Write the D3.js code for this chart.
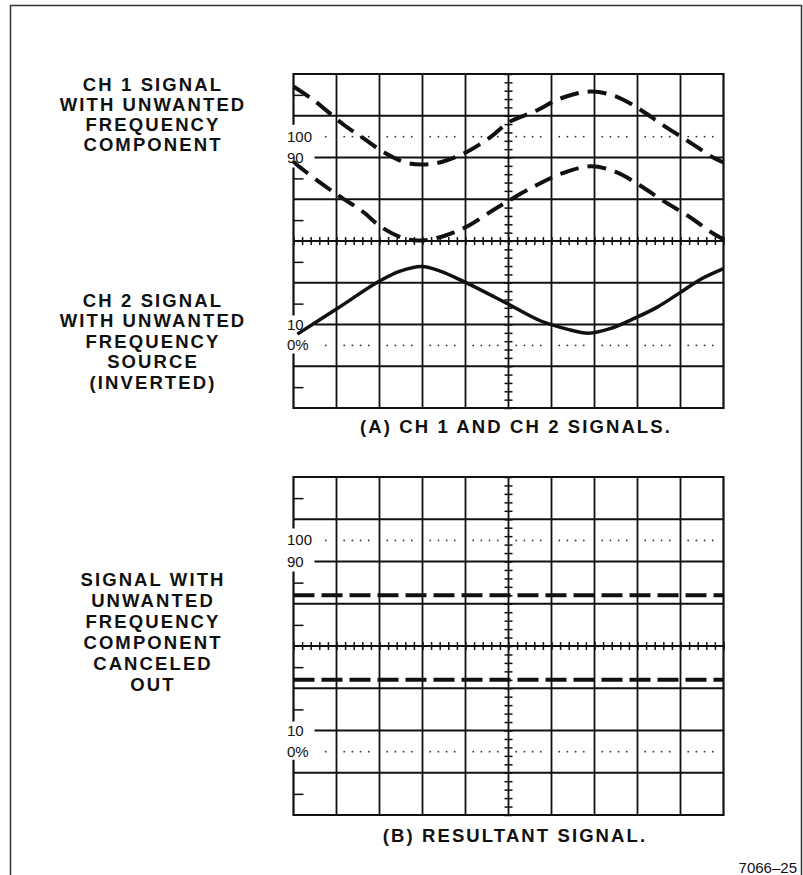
<!DOCTYPE html>
<html>
<head>
<meta charset="utf-8">
<script src="https://cdn.jsdelivr.net/npm/d3@7"></script>
<style>
  body { margin: 0; background: #fff; }
  svg { display: block; }
  .lbl { font-family: "Liberation Sans", Arial, sans-serif; font-weight: bold; font-size: 18.5px; letter-spacing: 2.1px; fill: #111; }
  .scl { font-family: "Liberation Sans", Arial, sans-serif; font-size: 15px; fill: #111; }
</style>
</head>
<body>
<script>
// values are in graticule divisions: x 0..10, y -4..4 from the centre line
var ch1Upper = [[0,3.7],[0.5,3.35],[1.16,2.79],[1.67,2.43],[2.06,2.15],[2.6,1.88],[3.02,1.83],[3.5,1.91],[4.06,2.15],[4.61,2.51],[5.0,2.84],[5.62,3.11],[6.2,3.41],[6.9,3.58],[7.48,3.47],[8.06,3.15],[8.6,2.77],[9.18,2.39],[9.76,2.0],[10,1.88]];
var ch1Lower = [[0,1.9],[0.12,1.79],[1.0,1.12],[1.59,0.72],[2.06,0.32],[2.64,0.04],[3.06,0.02],[3.5,0.12],[4.06,0.36],[4.61,0.72],[5.0,0.96],[5.62,1.32],[6.2,1.6],[6.9,1.79],[7.48,1.66],[8.06,1.33],[8.6,0.96],[9.18,0.6],[9.76,0.18],[10,0.04]];
var ch2Signal = [[0.09,-2.23],[1.0,-1.63],[2.0,-0.96],[2.48,-0.72],[2.99,-0.61],[3.41,-0.72],[3.94,-0.96],[4.92,-1.47],[5.74,-1.91],[6.36,-2.11],[6.86,-2.21],[7.36,-2.1],[7.91,-1.86],[8.45,-1.59],[9.0,-1.23],[9.46,-0.92],[10,-0.66]];
var resultUpper = [[0,1.2],[10,1.2]];
var resultLower = [[0,-0.8],[10,-0.8]];

var scaleLabels = ["100", "90", "10", "0%"];
var scaleLevels = [2.5, 2, -2, -2.5];

var labelsCh1 = ["CH 1 SIGNAL", "WITH UNWANTED", "FREQUENCY", "COMPONENT"];
var labelsCh2 = ["CH 2 SIGNAL", "WITH UNWANTED", "FREQUENCY", "SOURCE", "(INVERTED)"];
var labelsB = ["SIGNAL WITH", "UNWANTED", "FREQUENCY", "COMPONENT", "CANCELED", "OUT"];
var captionA = "(A) CH 1 AND CH 2 SIGNALS.";
var captionB = "(B) RESULTANT SIGNAL.";
var figNumber = "7066\u201325";

var svg = d3.select("body").append("svg").attr("width", 803).attr("height", 875);

// outer frame, bottom edge runs off the page
svg.append("path").attr("d", "M10.5,880V5.5H801.5V880")
   .attr("fill", "none").attr("stroke", "#333").attr("stroke-width", 1.5);

function graticule(top, height) {
  var x = d3.scaleLinear().domain([0, 10]).range([293.5, 723.5]);
  var y = d3.scaleLinear().domain([-4, 4]).range([top + height, top]);
  var g = svg.append("g");

  // vertical division lines
  d3.range(1, 10).forEach(function (i) {
    g.append("line").attr("x1", x(i)).attr("x2", x(i)).attr("y1", y(4)).attr("y2", y(-4))
     .attr("stroke", "#111").attr("stroke-width", 1.8);
  });
  // horizontal division lines, the 90 and 10 lines start after their labels
  [-3, -2, -1, 0, 1, 2, 3].forEach(function (j) {
    var x0 = (j == 2 || j == -2) ? x(0) + 21 : x(0);
    g.append("line").attr("x1", x0).attr("x2", x(10)).attr("y1", y(j)).attr("y2", y(j))
     .attr("stroke", "#111").attr("stroke-width", 1.8);
  });

  // border, left edge broken where the scale labels sit
  var b = d3.path();
  b.moveTo(x(0), y(2.5) - 12); b.lineTo(x(0), y(4)); b.lineTo(x(10), y(4));
  b.lineTo(x(10), y(-4)); b.lineTo(x(0), y(-4)); b.lineTo(x(0), y(-2.5) + 8);
  b.moveTo(x(0), y(-2) - 9); b.lineTo(x(0), y(2) + 10);
  g.append("path").attr("d", b.toString()).attr("fill", "none")
   .attr("stroke", "#111").attr("stroke-width", 2.2);

  // dotted 0% and 100% lines
  var dots = [];
  d3.range(0, 10).forEach(function (i) {
    [0.18, 0.37, 0.56, 0.75].forEach(function (f) {
      if (x(i + f) > 320) { dots.push(i + f); }
    });
  });
  [2.5, -2.5].forEach(function (lv) {
    g.selectAll(null).data(dots).enter().append("circle")
     .attr("cx", function (d) { return x(d); }).attr("cy", y(lv)).attr("r", 0.9).attr("fill", "#333");
  });

  // minor ticks on the centre lines
  var hTicks = d3.axisBottom(x).tickValues(d3.range(0, 10.01, 0.2)).tickSize(8).tickFormat("");
  g.append("g").attr("transform", "translate(0," + (y(0) - 4) + ")").call(hTicks);
  var vTicks = d3.axisRight(y).tickValues(d3.range(-4, 4.01, 0.2)).tickSize(8).tickFormat("");
  g.append("g").attr("transform", "translate(" + (x(5) - 4) + ",0)").call(vTicks);
  // half-division marks on the left edge
  var eTicks = d3.axisRight(y).tickValues([3.5, 0.5, -0.5, -1.5, 1.5, -3.5]).tickSize(10).tickFormat("");
  g.append("g").attr("transform", "translate(" + x(0) + ",0)").call(eTicks);
  g.selectAll(".domain").remove();
  g.selectAll(".tick line").attr("stroke", "#111").attr("stroke-width", 1.5);

  // scale labels
  g.selectAll(null).data(scaleLabels).enter().append("text").attr("class", "scl")
   .attr("x", 287).attr("y", function (d, i) { return y(scaleLevels[i]) + 5; })
   .text(function (d) { return d; });

  return { g: g, x: x, y: y };
}

function trace(p, data, width, dash) {
  var line = d3.line().curve(d3.curveCatmullRom.alpha(0.5))
               .x(function (d) { return p.x(d[0]); })
               .y(function (d) { return p.y(d[1]); });
  p.g.append("path").attr("d", line(data)).attr("fill", "none")
     .attr("stroke", "#111").attr("stroke-width", width)
     .attr("stroke-dasharray", dash || null);
}

function block(lines, cy, pitch) {
  var t = svg.append("text").attr("class", "lbl").attr("text-anchor", "middle");
  var y0 = cy - (lines.length - 1) * pitch / 2;
  lines.forEach(function (s, i) {
    t.append("tspan").attr("x", 153).attr("y", y0 + i * pitch + 6.5).text(s);
  });
}

var pA = graticule(74, 334);
trace(pA, ch1Upper, 4, "19,9");
trace(pA, ch1Lower, 4, "19,9");
trace(pA, ch2Signal, 3.5);

var pB = graticule(477, 338);
trace(pB, resultUpper, 4, "21,7");
trace(pB, resultLower, 4, "21,7");

block(labelsCh1, 114, 20);
block(labelsCh2, 341, 20.5);
block(labelsB, 632, 21);

svg.append("text").attr("class", "lbl").attr("x", 516).attr("y", 433)
   .attr("text-anchor", "middle").text(captionA);
svg.append("text").attr("class", "lbl").attr("x", 515).attr("y", 842)
   .attr("text-anchor", "middle").text(captionB);
svg.append("text").attr("class", "scl").attr("x", 797).attr("y", 873)
   .attr("text-anchor", "end").text(figNumber);
</script>
</body>
</html>
